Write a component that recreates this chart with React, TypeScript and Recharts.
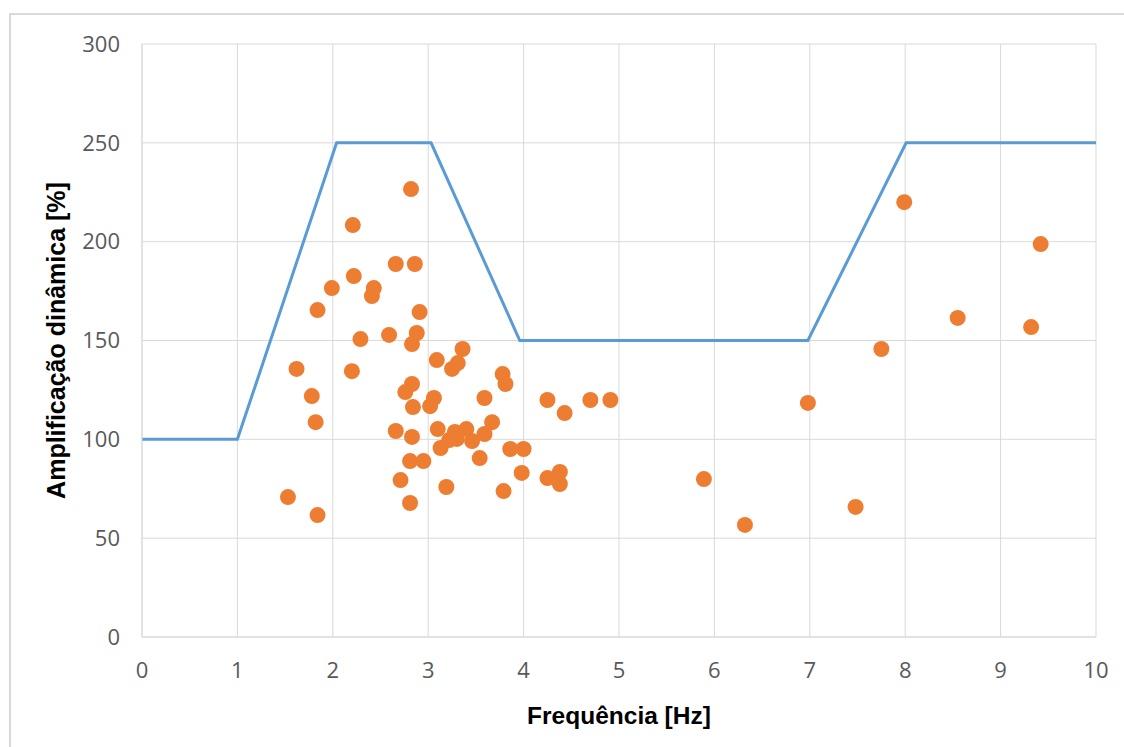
import React from 'react';
import { ComposedChart, Line, Scatter, XAxis, YAxis, CartesianGrid } from 'recharts';

// limit curve (blue)
const limitFreq = [0, 1, 2.04, 3.03, 3.96, 6.98, 8.01, 10];
const limitAmp = [100, 100, 250, 250, 150, 150, 250, 250];

// measured points (orange)
const pointFreq = [
  1.53, 1.62, 1.78, 1.82, 1.84, 1.84, 1.99, 2.2, 2.21, 2.22,
  2.29, 2.41, 2.43, 2.59, 2.66, 2.66, 2.71, 2.76, 2.81, 2.81,
  2.82, 2.83, 2.83, 2.83, 2.84, 2.86, 2.88, 2.91, 2.95, 3.02,
  3.06, 3.09, 3.1, 3.13, 3.19, 3.22, 3.25, 3.28, 3.3, 3.31,
  3.36, 3.4, 3.46, 3.54, 3.59, 3.59, 3.67, 3.78, 3.81, 3.79,
  3.86, 3.98, 4.0, 4.25, 4.25, 4.38, 4.38, 4.43, 4.7, 4.91,
  5.89, 6.32, 6.98, 7.48, 7.75, 7.99, 8.55, 9.32, 9.42,
];
const pointAmp = [
  70.8, 135.6, 121.9, 108.7, 165.4, 61.7, 176.5, 134.5, 208.4, 182.6,
  150.7, 172.5, 176.5, 152.8, 104.2, 188.7, 79.4, 123.9, 67.8, 89.0,
  226.6, 148.2, 101.2, 128.0, 116.3, 188.7, 153.8, 164.4, 89.0, 116.8,
  120.9, 140.1, 105.2, 95.6, 75.9, 99.6, 135.6, 103.7, 100.2, 138.6,
  145.7, 105.2, 99.1, 90.5, 102.7, 120.9, 108.7, 133.0, 128.0, 73.8,
  95.1, 83.0, 95.1, 119.9, 80.4, 83.5, 77.4, 113.3, 119.9, 119.9,
  79.9, 56.7, 118.4, 65.8, 145.7, 220.0, 161.4, 156.8, 198.8,
];

const xTicks = [0, 1, 2, 3, 4, 5, 6, 7, 8, 9, 10];
const yTicks = [0, 50, 100, 150, 200, 250, 300];

const limitData = limitFreq.map((x, i) => ({ x, y: limitAmp[i] }));
const pointData = pointFreq.map((x, i) => ({ x, y: pointAmp[i] }));

const tickStyle = { fontSize: 22, fill: '#595959', fontFamily: '"Open Sans", sans-serif' };
const titleFont = { fontWeight: 700, fill: '#000', fontFamily: '"Liberation Sans", Arial, sans-serif' };

export default function App() {
  return (
    <div style={{ position: 'absolute', left: 0, top: 0, width: 1124, height: 747, background: '#fff', overflow: 'hidden' }}>
      <div
        style={{
          position: 'absolute', left: 9, top: 13, width: 1200, height: 800,
          borderTop: '2px solid #d9d9d9', borderLeft: '2px solid #d9d9d9',
        }}
      />
      <div style={{ position: 'absolute', left: 0, top: 0 }}>
        <ComposedChart width={1124} height={747} margin={{ top: 44, right: 28, bottom: 0, left: 42 }}>
          <CartesianGrid stroke="#d9d9d9" strokeWidth={1} />
          <XAxis
            type="number"
            dataKey="x"
            domain={[0, 10]}
            ticks={xTicks}
            height={110}
            stroke="#d9d9d9"
            tickLine={false}
            tickSize={0}
            tickMargin={25}
            tick={tickStyle}
            label={{ value: 'Frequência [Hz]', position: 'insideBottom', offset: 23, style: { ...titleFont, fontSize: 24.5 } }}
          />
          <YAxis
            type="number"
            dataKey="y"
            domain={[0, 300]}
            ticks={yTicks}
            width={100}
            stroke="#d9d9d9"
            tickLine={false}
            tickSize={0}
            tickMargin={22}
            tick={tickStyle}
            label={{ value: 'Amplificação dinâmica [%]', angle: -90, position: 'insideLeft', offset: 14, style: { ...titleFont, fontSize: 25, textAnchor: 'middle' } }}
          />
          <Line
            data={limitData}
            dataKey="y"
            type="linear"
            stroke="#5b9bd5"
            strokeWidth={3}
            dot={false}
            activeDot={false}
            isAnimationActive={false}
          />
          <Scatter
            data={pointData}
            dataKey="y"
            fill="#ed7d31"
            isAnimationActive={false}
            shape={(p: any) => <circle cx={p.cx} cy={p.cy} r={8} fill="#ed7d31" />}
          />
        </ComposedChart>
      </div>
    </div>
  );
}
